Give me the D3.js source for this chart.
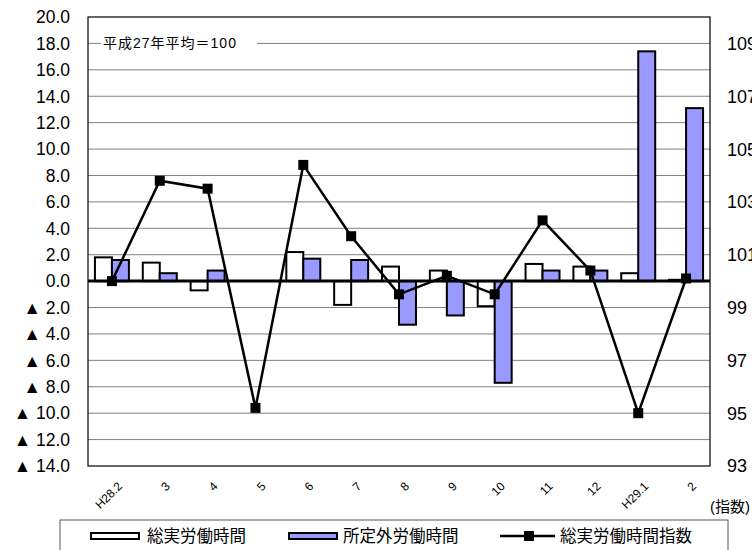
<!DOCTYPE html>
<html>
<head>
<meta charset="utf-8">
<script src="https://cdnjs.cloudflare.com/ajax/libs/d3/7.8.5/d3.min.js"></script>
<style>
  body { margin: 0; background: #fff; }
  svg { display: block; font-family: "Liberation Sans", Arial, "Noto Sans CJK JP", sans-serif; }
</style>
</head>
<body>
<div id="chart"></div>
<script>
// categories (months)
var categories = ['H28.2', '3', '4', '5', '6', '7', '8', '9', '10', '11', '12', 'H29.1', '2'];
// 総実労働時間 (前年同月比 %)
var totalHours = [1.8, 1.4, -0.7, 0.0, 2.2, -1.8, 1.1, 0.8, -1.9, 1.3, 1.1, 0.6, 0.1];
// 所定外労働時間 (前年同月比 %)
var overtimeHours = [1.6, 0.6, 0.8, 0.0, 1.7, 1.6, -3.3, -2.6, -7.7, 0.8, 0.8, 17.4, 13.1];
// 総実労働時間指数 (平成27年平均=100)
var totalIndex = [100.0, 103.8, 103.5, 95.2, 104.4, 101.7, 99.5, 100.2, 99.5, 102.3, 100.4, 95.0, 100.1];

var leftTicks = [20, 18, 16, 14, 12, 10, 8, 6, 4, 2, 0, -2, -4, -6, -8, -10, -12, -14];
var rightTicks = [109, 107, 105, 103, 101, 99, 97, 95, 93];

var W = 752, H = 550;
var plot = { left: 88, right: 710, top: 17, bottom: 466 };

var svg = d3.select('#chart').append('svg').attr('width', W).attr('height', H);

var x = d3.scaleBand().domain(categories).range([plot.left, plot.right]).padding(0);
var yL = d3.scaleLinear().domain([-14, 20]).range([plot.bottom, plot.top]);
var yR = d3.scaleLinear().domain([93, 110]).range([plot.bottom, plot.top]);

// gridlines
svg.append('g').selectAll('line')
  .data(leftTicks.filter(function (d) { return d !== 0 && d !== 20 && d !== -14; }))
  .enter().append('line')
  .attr('x1', plot.left).attr('x2', plot.right)
  .attr('y1', function (d) { return yL(d); })
  .attr('y2', function (d) { return yL(d); })
  .attr('stroke', '#808080').attr('stroke-width', 1);

// plot border
svg.append('rect')
  .attr('x', plot.left).attr('y', plot.top)
  .attr('width', plot.right - plot.left).attr('height', plot.bottom - plot.top)
  .attr('fill', 'none').attr('stroke', '#000').attr('stroke-width', 1.2);

// annotation with white backing
svg.append('rect').attr('x', 101).attr('y', yL(18) - 7).attr('width', 156).attr('height', 14).attr('fill', '#fff');
svg.append('text').attr('x', 103).attr('y', yL(18)).attr('dy', '0.35em')
  .attr('font-size', 14).attr('letter-spacing', 1).text('平成27年平均＝100');

// left axis labels
svg.append('g').selectAll('text').data(leftTicks).enter().append('text')
  .attr('x', 70).attr('y', function (d) { return yL(d); }).attr('dy', '0.36em')
  .attr('text-anchor', 'end').attr('font-size', 17.5)
  .text(function (d) { return d < 0 ? '▲ ' + Math.abs(d).toFixed(1) : d.toFixed(1); });

// right axis labels
svg.append('g').selectAll('text').data(rightTicks).enter().append('text')
  .attr('x', 727).attr('y', function (d) { return yR(d); }).attr('dy', '0.36em')
  .attr('font-size', 18).text(function (d) { return d; });

// bars
var bw = x.bandwidth() * 0.355;
function barGroup(data, dx, fill) {
  svg.append('g').selectAll('rect').data(data).enter().append('rect')
    .attr('x', function (d, i) { return x(categories[i]) + x.bandwidth() / 2 + dx; })
    .attr('y', function (d) { return yL(Math.max(0, d)); })
    .attr('width', bw)
    .attr('height', function (d) { return Math.abs(yL(d) - yL(0)); })
    .attr('fill', fill).attr('stroke', '#000').attr('stroke-width', 2);
}
barGroup(totalHours, -bw, '#fff');
barGroup(overtimeHours, 0, '#9999FF');

// zero line
svg.append('line').attr('x1', plot.left).attr('x2', plot.right)
  .attr('y1', yL(0)).attr('y2', yL(0)).attr('stroke', '#000').attr('stroke-width', 3);

// index line
var line = d3.line()
  .x(function (d, i) { return x(categories[i]) + x.bandwidth() / 2; })
  .y(function (d) { return yR(d); });
svg.append('path').datum(totalIndex).attr('d', line)
  .attr('fill', 'none').attr('stroke', '#000').attr('stroke-width', 2.5);
svg.append('g').selectAll('rect').data(totalIndex).enter().append('rect')
  .attr('x', function (d, i) { return x(categories[i]) + x.bandwidth() / 2 - 5; })
  .attr('y', function (d) { return yR(d) - 5; })
  .attr('width', 10).attr('height', 10).attr('fill', '#000');

// x labels
svg.append('g').selectAll('text').data(categories).enter().append('text')
  .attr('transform', function (d) {
    return 'translate(' + (x(d) + x.bandwidth() / 2 + 8) + ',484) rotate(-45)';
  })
  .attr('text-anchor', 'end').attr('dy', '0.35em').attr('font-size', 12)
  .text(function (d) { return d; });

// (指数)
svg.append('text').attr('x', 710).attr('y', 507).attr('dy', '0.35em')
  .attr('font-size', 15).text('(指数)');

// legend
svg.append('rect').attr('x', 60).attr('y', 520).attr('width', 668).attr('height', 50)
  .attr('fill', '#fff').attr('stroke', '#555').attr('stroke-width', 1);
var ly = 536;
svg.append('rect').attr('x', 91).attr('y', ly - 3).attr('width', 48).attr('height', 6)
  .attr('fill', '#fff').attr('stroke', '#000').attr('stroke-width', 2);
svg.append('text').attr('x', 147).attr('y', ly).attr('dy', '0.35em').attr('font-size', 16.5).text('総実労働時間');
svg.append('rect').attr('x', 289).attr('y', ly - 3).attr('width', 48).attr('height', 6)
  .attr('fill', '#9999FF').attr('stroke', '#000').attr('stroke-width', 2);
svg.append('text').attr('x', 343).attr('y', ly).attr('dy', '0.35em').attr('font-size', 16.5).text('所定外労働時間');
svg.append('line').attr('x1', 500).attr('x2', 555).attr('y1', ly).attr('y2', ly)
  .attr('stroke', '#000').attr('stroke-width', 2.5);
svg.append('rect').attr('x', 524).attr('y', ly - 5).attr('width', 10).attr('height', 10).attr('fill', '#000');
svg.append('text').attr('x', 560).attr('y', ly).attr('dy', '0.35em').attr('font-size', 16.5).text('総実労働時間指数');
</script>
</body>
</html>
